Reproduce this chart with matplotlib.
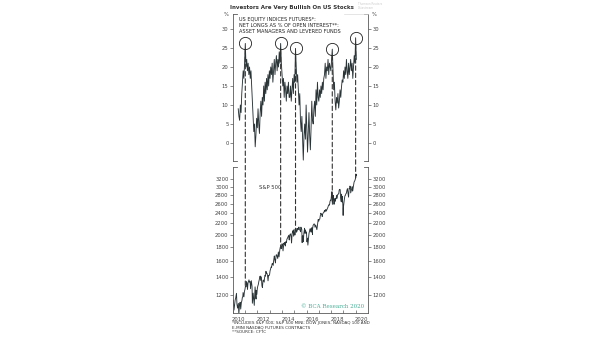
import numpy as np
import pandas as pd
import matplotlib
matplotlib.use("Agg")
import matplotlib.pyplot as plt
from matplotlib.patches import ConnectionPatch
from matplotlib.ticker import NullLocator

# net longs as % of open interest, every 3 weeks from mid-June 2010
net_long_start = "2010-06-14"
net_long = [9, 7, 6, 10, 8, 13, 16, 19, 17, 21, 26.2,
            20, 22, 19, 21, 18, 20, 17, 19, 15,
            11, 7, 3, 5, -1, 2,
            6.5, 4, 9, 5, 2.5, 8, 11, 7, 12, 10,
            15, 11, 16, 13, 17, 14, 18, 15, 19,
            17, 20, 18, 21, 16, 19, 22, 18, 21, 23, 19, 22, 20, 24, 21, 26.2,
            21, 18, 15, 17, 12, 16, 14, 11, 15, 13, 16, 12,
            12, 15, 11, 14, 17, 13, 18, 16, 24.9,
            20, 16, 18, 14, 10, 13, 6, 3, 7, 1, -4.5,
            2, 5, 1, 10, 4, -2.4, 3, 8, 2, -1.8, 4, 11, 6, 5, 9, 11, 7, 14, 10, 16, 12,
            11, 14, 12, 15, 13, 16, 14, 17, 18, 21, 17, 20, 19, 22, 18, 21, 20, 19, 22, 24.7,
            19, 14, 16, 11, 8.7, 12, 10.5, 13, 9.2, 11, 14, 12, 14.7, 16.6,
            16, 19, 17, 20, 18, 22, 19, 17, 21, 18, 20, 22, 19, 21, 17, 20, 23, 21, 27.7,
            22]
peak_idx = [10, 60, 81, 133, 166]

spx_dates = [
    "2010-01-04", "2010-01-19", "2010-02-08", "2010-02-26", "2010-03-15", "2010-03-31", "2010-04-23", "2010-05-07",
    "2010-05-25", "2010-06-18", "2010-07-02", "2010-07-23", "2010-08-09", "2010-08-27", "2010-09-15", "2010-09-30",
    "2010-10-15", "2010-10-29", "2010-11-05", "2010-11-30", "2010-12-15", "2010-12-31",
    "2011-01-14", "2011-01-31", "2011-02-18", "2011-02-28", "2011-03-16", "2011-03-31", "2011-04-29", "2011-05-13",
    "2011-05-31", "2011-06-15", "2011-06-30", "2011-07-07", "2011-07-29", "2011-08-08", "2011-08-31", "2011-09-22",
    "2011-10-03", "2011-10-27", "2011-11-25", "2011-11-30", "2011-12-19", "2011-12-30",
    "2012-01-13", "2012-01-31", "2012-02-15", "2012-02-29", "2012-03-15", "2012-03-30", "2012-04-10", "2012-04-30",
    "2012-05-18", "2012-06-01", "2012-06-19", "2012-06-29", "2012-07-25", "2012-07-31", "2012-08-17", "2012-08-31",
    "2012-09-14", "2012-09-28", "2012-10-15", "2012-10-31", "2012-11-15", "2012-11-30", "2012-12-14", "2012-12-31",
    "2013-01-15", "2013-01-31", "2013-02-15", "2013-02-28", "2013-03-15", "2013-03-28", "2013-04-18", "2013-04-30",
    "2013-05-21", "2013-05-31", "2013-06-24", "2013-06-28", "2013-07-15", "2013-07-31", "2013-08-15", "2013-08-30",
    "2013-09-18", "2013-09-30", "2013-10-08", "2013-10-31", "2013-11-15", "2013-11-29", "2013-12-13", "2013-12-31",
    "2014-01-15", "2014-02-03", "2014-02-28", "2014-03-14", "2014-03-31", "2014-04-11", "2014-04-30", "2014-05-15",
    "2014-05-30", "2014-06-13", "2014-06-30", "2014-07-24", "2014-07-31", "2014-08-07", "2014-08-29", "2014-09-18",
    "2014-09-30", "2014-10-15", "2014-10-31", "2014-11-14", "2014-11-28", "2014-12-16", "2014-12-29",
    "2015-01-15", "2015-01-30", "2015-02-13", "2015-02-27", "2015-03-11", "2015-03-31", "2015-04-15", "2015-04-30",
    "2015-05-21", "2015-05-29", "2015-06-15", "2015-06-30", "2015-07-08", "2015-07-20", "2015-07-31", "2015-08-14",
    "2015-08-25", "2015-08-31", "2015-09-15", "2015-09-28", "2015-10-15", "2015-10-30", "2015-11-03", "2015-11-13",
    "2015-11-30", "2015-12-14", "2015-12-31",
    "2016-01-15", "2016-01-29", "2016-02-11", "2016-02-29", "2016-03-15", "2016-03-31", "2016-04-20", "2016-04-29",
    "2016-05-19", "2016-05-31", "2016-06-08", "2016-06-27", "2016-06-30", "2016-07-15", "2016-07-29", "2016-08-15",
    "2016-08-31", "2016-09-09", "2016-09-30", "2016-10-14", "2016-11-04", "2016-11-30", "2016-12-13", "2016-12-30",
    "2017-01-13", "2017-01-31", "2017-02-15", "2017-02-28", "2017-03-01", "2017-03-31", "2017-04-13", "2017-04-28",
    "2017-05-15", "2017-05-31", "2017-06-19", "2017-06-30", "2017-07-14", "2017-07-31", "2017-08-10", "2017-08-31",
    "2017-09-15", "2017-09-29", "2017-10-13", "2017-10-31", "2017-11-15", "2017-11-30", "2017-12-15", "2017-12-29",
    "2018-01-12", "2018-01-26", "2018-02-08", "2018-02-26", "2018-03-09", "2018-03-23", "2018-04-02", "2018-04-18",
    "2018-04-30", "2018-05-15", "2018-05-31", "2018-06-12", "2018-06-29", "2018-07-13", "2018-07-31", "2018-08-15",
    "2018-08-29", "2018-09-20", "2018-09-28", "2018-10-11", "2018-10-29", "2018-11-07", "2018-11-23", "2018-11-30",
    "2018-12-14", "2018-12-24", "2018-12-31",
    "2019-01-15", "2019-01-31", "2019-02-15", "2019-02-28", "2019-03-15", "2019-03-29", "2019-04-15", "2019-04-30",
    "2019-05-15", "2019-06-03", "2019-06-20", "2019-06-28", "2019-07-15", "2019-07-31", "2019-08-05", "2019-08-30",
    "2019-09-16", "2019-09-30", "2019-10-02", "2019-10-31", "2019-11-15", "2019-11-29", "2019-12-13", "2019-12-31",
    "2020-01-17", "2020-01-24"]
spx_values = [
    1133, 1150, 1056, 1105, 1150, 1169, 1217, 1111, 1074, 1118, 1022, 1103, 1128, 1065, 1126, 1141,
    1177, 1183, 1225, 1181, 1236, 1258,
    1294, 1286, 1343, 1327, 1257, 1326, 1364, 1338, 1345, 1265, 1321, 1354, 1292, 1119, 1219, 1129,
    1099, 1285, 1159, 1247, 1206, 1258,
    1289, 1312, 1344, 1366, 1402, 1408, 1358, 1398, 1295, 1278, 1357, 1362, 1338, 1379, 1418, 1407,
    1466, 1441, 1441, 1412, 1353, 1416, 1413, 1426,
    1472, 1498, 1520, 1515, 1561, 1569, 1541, 1598, 1669, 1631, 1573, 1606, 1683, 1686, 1661, 1633,
    1726, 1682, 1656, 1757, 1798, 1806, 1775, 1848,
    1848, 1742, 1860, 1841, 1872, 1815, 1884, 1871, 1924, 1937, 1960, 1988, 1931, 1910, 2003, 2011,
    1972, 1862, 2018, 2039, 2068, 1972, 2091,
    1992, 1995, 2097, 2105, 2040, 2068, 2107, 2086, 2131, 2107, 2084, 2063, 2047, 2129, 2104, 2092,
    1868, 1972, 1979, 1882, 2023, 2079, 2109, 2023, 2080, 2021, 2044,
    1880, 1940, 1829, 1932, 2016, 2060, 2102, 2065, 2040, 2097, 2119, 2001, 2099, 2162, 2174, 2190,
    2171, 2128, 2168, 2133, 2085, 2199, 2271, 2239,
    2275, 2279, 2350, 2364, 2396, 2363, 2329, 2384, 2402, 2412, 2453, 2423, 2459, 2470, 2438, 2472,
    2500, 2519, 2553, 2575, 2565, 2648, 2676, 2674,
    2786, 2873, 2581, 2780, 2786, 2588, 2582, 2708, 2648, 2711, 2705, 2787, 2718, 2801, 2816, 2819,
    2914, 2931, 2914, 2729, 2641, 2814, 2633, 2760, 2600, 2351, 2507,
    2610, 2704, 2776, 2784, 2822, 2834, 2906, 2946, 2851, 2744, 2954, 2942, 3014, 2980, 2844, 2926,
    2998, 2977, 2888, 3038, 3120, 3141, 3169, 3231,
    3330, 3295]

top_ticks = [0, 5, 10, 15, 20, 25, 30]
spx_ticks = [1200, 1400, 1600, 1800, 2000, 2200, 2400, 2600, 2800, 3000, 3200]
year_labels = ["2010", "2012", "2014", "2016", "2018", "2020"]


def to_year(d):
    d = pd.to_datetime(pd.Series(d))
    return (d.dt.year + (d.dt.dayofyear - 1) / 365.25).to_numpy()


nl_x = to_year(pd.date_range(net_long_start, periods=len(net_long), freq="21D"))
nl_y = np.array(net_long)
sp_x = to_year(spx_dates)
sp_y = np.array(spx_values)

W, H = 605, 341
fig = plt.figure(figsize=(W / 100, H / 100), dpi=100)
fig.patch.set_facecolor("white")
spine_c = "#5a5a5a"
line_c = "#2a3437"

ax1 = fig.add_axes([232.7 / W, 1 - 161 / H, 135.3 / W, 147 / H])
ax2 = fig.add_axes([232.7 / W, 1 - 312.7 / H, 135.3 / W, 145.7 / H])

for ax in (ax1, ax2):
    ax.set_xlim(2010.0, 2021.0)
    ax.spines["top"].set_visible(False)
    for s in ("left", "right", "bottom"):
        ax.spines[s].set_color(spine_c)
        ax.spines[s].set_linewidth(0.6)
    ax.tick_params(axis="y", which="both", direction="out", length=2, width=0.5, color=spine_c,
                   labelsize=3.8, labelcolor="#444", pad=1, left=True, right=True,
                   labelleft=True, labelright=True)
    # small inward stubs at the ends of the side spines
    for yy in (0, 1):
        if ax is ax2 and yy == 0:
            continue
        ax.plot([0, 0.03], [yy, yy], transform=ax.transAxes, color=spine_c, lw=0.6, clip_on=False)
        ax.plot([0.97, 1], [yy, yy], transform=ax.transAxes, color=spine_c, lw=0.6, clip_on=False)

# top panel
ax1.spines["bottom"].set_visible(False)
ax1.plot(nl_x, nl_y, color=line_c, lw=0.65)
ax1.set_ylim(-4.74, 33.95)
ax1.set_yticks(top_ticks)
ax1.set_xticks([])
ax1.plot(nl_x[peak_idx], nl_y[peak_idx], "o", mfc="none", mec="#1e1e1e", ms=8.8, mew=0.6)
ax1.text(0.045, 0.985, "US EQUITY INDICES FUTURES*:\nNET LONGS AS % OF OPEN INTEREST**:\nASSET MANAGERS AND LEVERED FUNDS",
         transform=ax1.transAxes, ha="left", va="top", fontsize=3.6, color="#222",
         linespacing=1.35)

# bottom panel
ax2.plot(sp_x, sp_y, color=line_c, lw=0.65)
ax2.set_yscale("log")
ax2.set_ylim(1033, 3540)
ax2.set_yticks(spx_ticks)
ax2.set_yticklabels([str(t) for t in spx_ticks])
ax2.yaxis.set_minor_locator(NullLocator())
ax2.set_xticks(range(2010, 2021))
ax2.set_xticklabels([])
ax2.set_xticks([int(y) + 0.5 for y in year_labels], minor=True)
ax2.set_xticklabels(year_labels, minor=True)
ax2.tick_params(axis="x", which="major", direction="in", length=2, width=0.5, color=spine_c)
ax2.tick_params(axis="x", which="minor", length=0, labelsize=3.8, labelcolor="#444", pad=3)
ax2.text(0.196, 0.86, "S&P 500", transform=ax2.transAxes, fontsize=3.8, color="#333",
         ha="left", va="center")
ax2.text(0.97, 0.044, "\u00a9 BCA Research 2020", transform=ax2.transAxes, fontsize=4,
         color="#45ad93", ha="right", va="center", family="DejaVu Serif")

# dashed connectors from each circled peak down to the S&P line
for i in peak_idx:
    x = nl_x[i]
    con = ConnectionPatch(xyA=(x, nl_y[i] - 1.7), coordsA=ax1.transData,
                          xyB=(x, np.interp(x, sp_x, sp_y)), coordsB=ax2.transData,
                          color="#333", lw=0.8, linestyle=(0, (4, 2.5)))
    fig.add_artist(con)

# percent markers
fig.text(229 / W, 1 - 14 / H, "%", ha="right", va="center", fontsize=3.8, color="#444")
fig.text(372 / W, 1 - 14 / H, "%", ha="left", va="center", fontsize=3.8, color="#444")

# faint data-provider mark
fig.text(358 / W, 1 - 6 / H, "Thomson Reuters\nDatastream", ha="left", va="center",
         fontsize=2.0, color="#cccccc", linespacing=1.3)
fig.add_artist(plt.Line2D([344 / W, 368 / W], [1 - 14 / H, 1 - 14 / H], color="#dadada", lw=0.5))

fig.text(292 / W, 1 - 7 / H, "Investors Are Very Bullish On US Stocks", ha="center", va="center",
         fontsize=4.0, fontweight="bold", color="#333")

fig.text(232 / W, 1 - 327.7 / H,
         "*INCLUDES S&P 500; S&P 500 MINI; DOW JONES; NASDAQ 100 AND\nE-MINI NASDAQ FUTURES CONTRACTS\n**SOURCE: CFTC",
         ha="left", va="center", fontsize=3.0, color="#333", linespacing=1.25)

fig.savefig("out.png", dpi=100, facecolor="white")
